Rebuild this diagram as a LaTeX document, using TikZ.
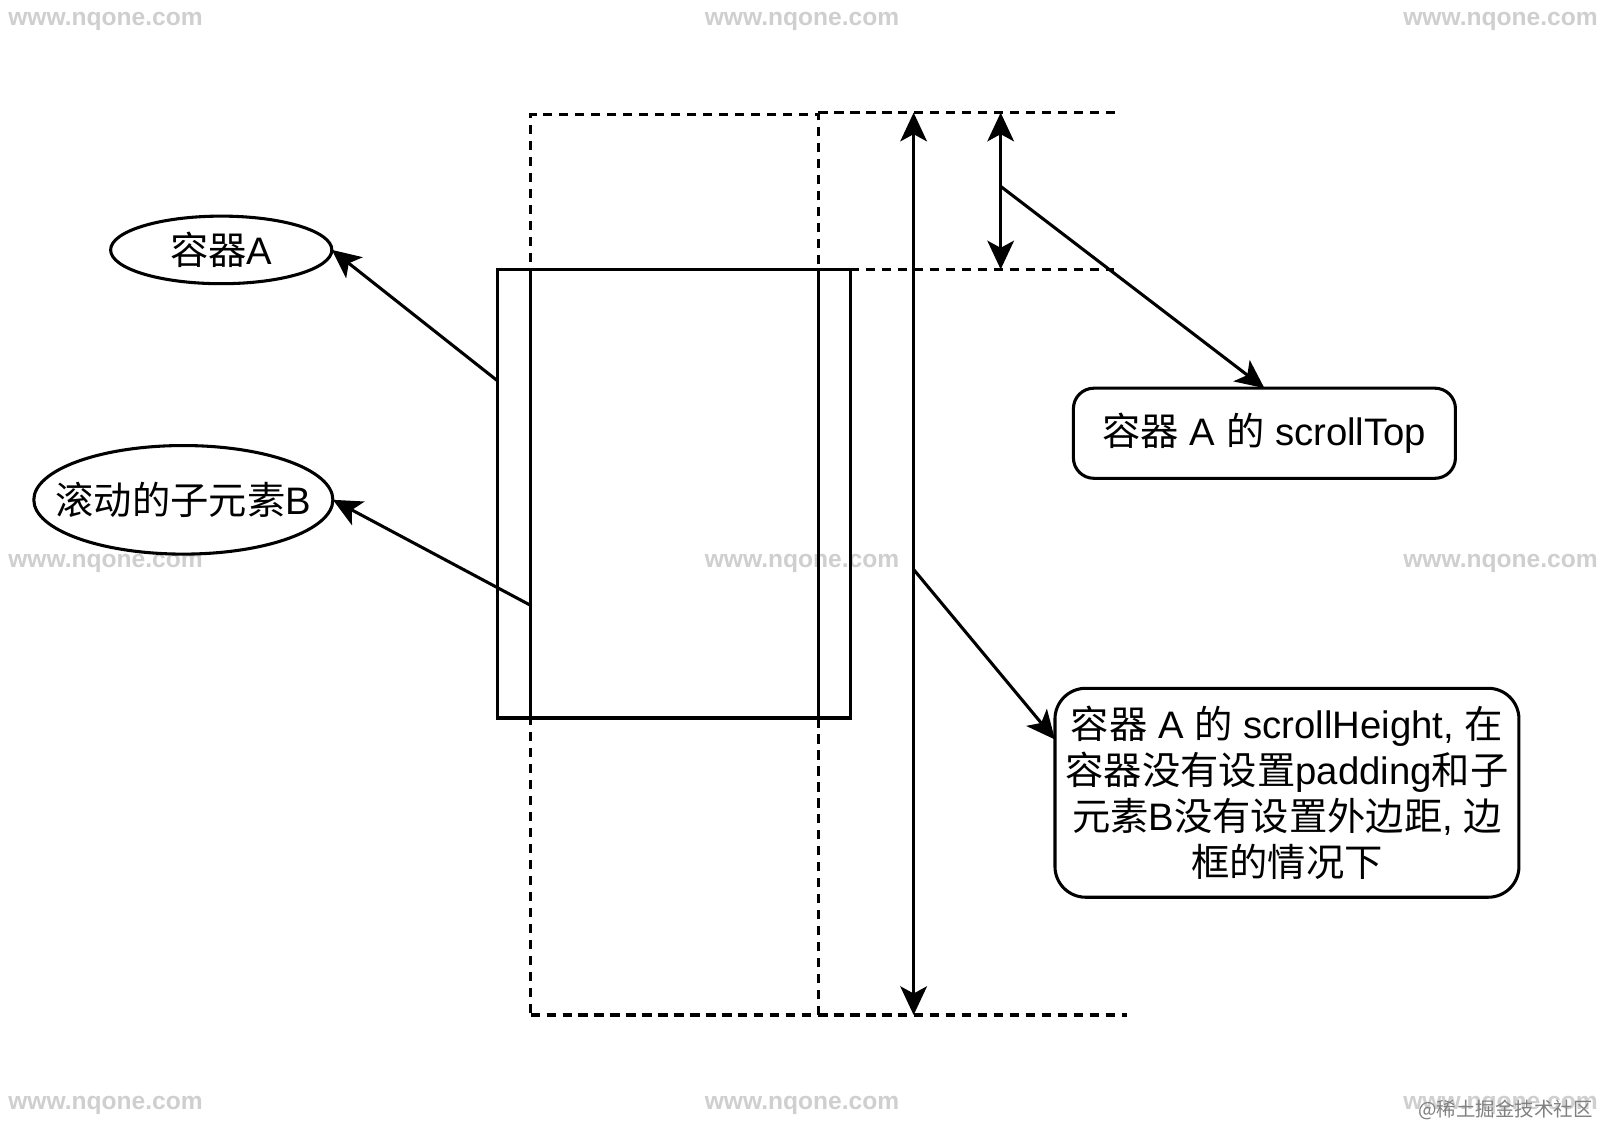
\documentclass[tikz,border=0pt]{standalone}
\usepackage{fontspec}
\setmainfont{Liberation Sans}
\newfontfamily\cjk{Noto Sans CJK SC}
\usetikzlibrary{arrows.meta,shapes.geometric}
\tikzset{
  ln/.style={line width=1.5pt, black},
  dsh/.style={ln, dash pattern=on 4.5pt off 3.3pt},
  tip/.tip={Stealth[length=14pt,width=13pt,inset=3.5pt]},
  arr/.style={ln, -tip},
  darr/.style={ln, tip-tip},
  lbl/.style={font=\fontsize{18.7}{22.5}\selectfont, align=center},
  ell/.style={ln, draw, ellipse, inner sep=0pt, outer sep=0pt},
  rbox/.style={ln, draw, rounded corners=10pt, inner sep=0pt, outer sep=0pt, lbl},
  wm/.style={text=black!19, font=\fontsize{12}{14}\selectfont\bfseries},
}
\begin{document}
\begin{tikzpicture}[x=0.5pt,y=-0.5pt]
\useasboundingbox (0,0) rectangle (1568,1101);
\fill[white] (0,0) rectangle (1568,1101);
% watermarks
\foreach \yy [count=\r] in {21,550,1079}{
  \foreach \xx [count=\c] in {103,783,1465}{
    \node[wm] (wm\r\c) at (\xx,\yy) {www.nqone.com};
  }
}
\node[text=black!50, font=\cjk\fontsize{9.5}{11}\selectfont, anchor=east] (jj) at (1562,1084) {@稀土掘金技术社区};
% child B (dashed) and container A
\node[dsh, draw, minimum width=140.5pt, minimum height=439.5pt, inner sep=0pt, outer sep=0pt] (childB) at (658.5,551.5) {};
\node[ln, draw, minimum width=172pt, minimum height=219pt, inner sep=0pt, outer sep=0pt] (contA) at (658,482) {};
\draw[ln] (childB.west |- contA.north) -- (childB.west |- contA.south);
\draw[ln] (childB.east |- contA.north) -- (childB.east |- contA.south);
% dashed guide lines
\coordinate (gTopL) at (799,110);
\coordinate (gTopR) at (1093,110);
\coordinate (gMidL) at (830,263);
\coordinate (gMidR) at (1088,263);
\coordinate (gBotL) at (799,991);
\coordinate (gBotR) at (1100,991);
\draw[dsh] (gTopL) -- (gTopR);
\draw[dsh] (gMidL) -- (gMidR);
\draw[dsh] (gBotL) -- (gBotR);
% ellipses
\node[ell, minimum width=108pt, minimum height=33pt, label={[lbl]center:{\cjk 容器}A}] (ellA) at (216,244) {};
\node[ell, minimum width=146pt, minimum height=53pt, label={[lbl]center:{\cjk 滚动的子元素}B}] (ellB) at (179,488) {};
\coordinate (pA) at (486,372);
\coordinate (pB) at (518,591);
\draw[arr] (pA) -- (ellA.east);
\draw[arr] (pB) -- (ellB.east);
% boxes
\node[rbox, minimum width=186.5pt, minimum height=44pt] (stBox) at (1234.5,423) {{\cjk 容器} A {\cjk 的} scrollTop};
\node[rbox, rounded corners=15pt, minimum width=226.5pt, minimum height=102pt] (shBox) at (1256.5,774)
  {{\cjk 容器} A {\cjk 的} scrollHeight, {\cjk 在}\\
   {\cjk 容器没有设置}padding{\cjk 和子}\\
   {\cjk 元素}B{\cjk 没有设置外边距}, {\cjk 边}\\
   {\cjk 框的情况下}};
% dimension arrows
\coordinate (hTop) at (892,110);
\coordinate (hBot) at (892,991);
\coordinate (hMid) at (892,556);
\coordinate (sTop) at (977,110);
\coordinate (sBot) at (977,263);
\coordinate (sMid) at (977,182);
\draw[darr] (hBot) -- (hTop);
\draw[darr] (sBot) -- (sTop);
\draw[arr] (sMid) -- (stBox.north);
\draw[arr] (hMid) -- ([yshift=26pt]shBox.west);
\end{tikzpicture}
\end{document}
